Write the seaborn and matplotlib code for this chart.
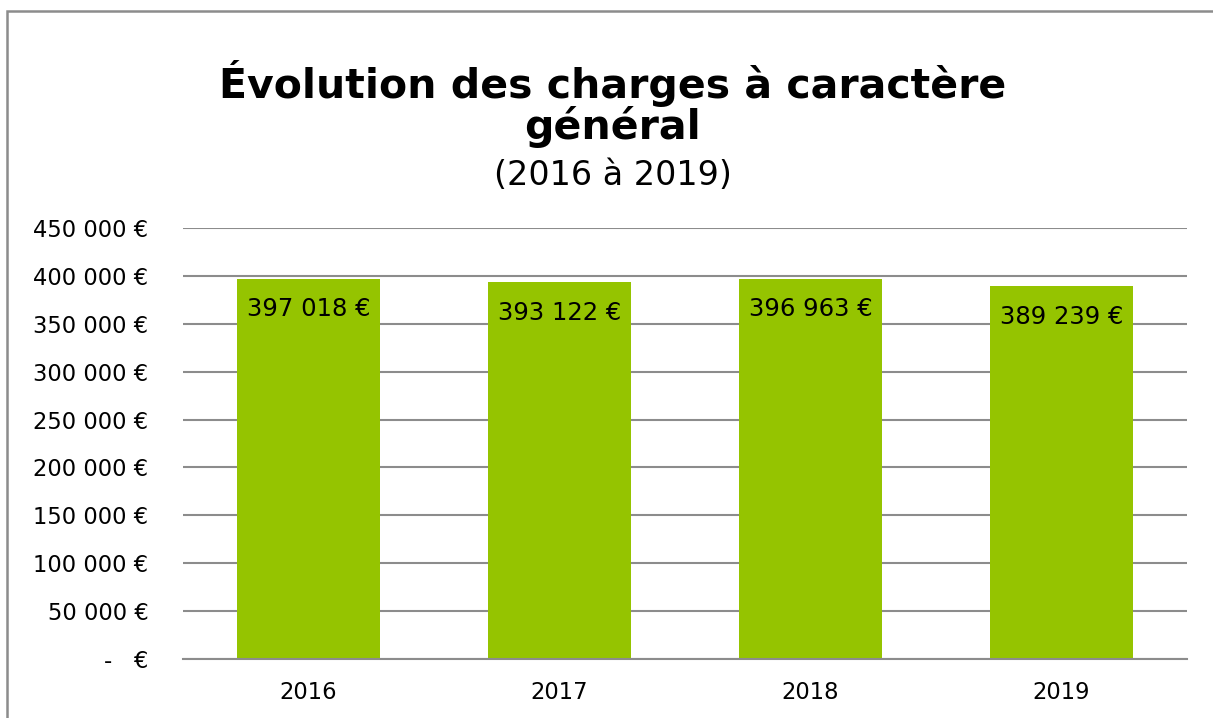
import matplotlib
matplotlib.use('Agg')
import matplotlib.pyplot as plt
from matplotlib.patches import Rectangle
from matplotlib.ticker import FuncFormatter
import seaborn as sns
import pandas as pd

years = ['2016', '2017', '2018', '2019']
charges = [397018, 393122, 396963, 389239]
y_ticks = [0, 50000, 100000, 150000, 200000, 250000, 300000, 350000, 400000, 450000]


def euro(v, pos=None):
    if v == 0:
        return '-   €'
    return '{:,.0f} €'.format(v).replace(',', ' ')


sns.set_theme(style='white')
plt.rcParams['font.family'] = ['DejaVu Sans']
plt.rcParams['text.color'] = 'black'

df = pd.DataFrame({'annee': years, 'charges': charges})

fig = plt.figure(figsize=(12.13, 7.18), dpi=100)
ax = fig.add_axes([0.1509, 0.0822, 0.8277, 0.6003])

sns.barplot(data=df, x='annee', y='charges', color='#95C400', saturation=1,
            width=0.57, linewidth=0, ax=ax)

ax.set_ylim(0, 450000)
ax.set_yticks(y_ticks)
ax.yaxis.set_major_formatter(FuncFormatter(euro))
ax.yaxis.grid(True, color='#8c8c8c', linewidth=1.5)
ax.set_axisbelow(True)
for s in ['top', 'right', 'left']:
    ax.spines[s].set_visible(False)
ax.spines['bottom'].set_color('#8c8c8c')
ax.spines['bottom'].set_linewidth(1.5)
ax.tick_params(axis='both', length=0, labelsize=16.3, colors='black')
ax.tick_params(axis='y', pad=25)
ax.tick_params(axis='x', pad=16)
ax.set_xlabel('')
ax.set_ylabel('')

# étiquettes de valeur dans le haut des barres
for i, v in enumerate(charges):
    ax.text(i, v - 32000, euro(v), ha='center', va='center', fontsize=17.5,
            color='black')

fig.text(0.505, 0.855, 'Évolution des charges à caractère\ngénéral', ha='center',
         va='center', fontsize=29.5, fontweight='bold', linespacing=0.95,
         color='black')
fig.text(0.505, 0.756, '(2016 à 2019)', ha='center', va='center', fontsize=24,
         color='black')

fig.patches.append(Rectangle((0.006, -0.02), 1.0, 1.0047, transform=fig.transFigure,
                             fill=False, edgecolor='#8c8c8c', linewidth=1.8))

fig.savefig('out.png', dpi=100)
